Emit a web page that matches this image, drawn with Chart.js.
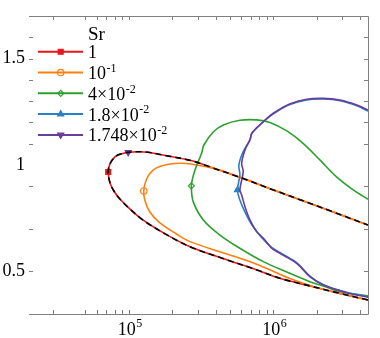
<!DOCTYPE html>
<html>
<head>
<meta charset="utf-8">
<script src="https://cdn.jsdelivr.net/npm/chart.js@4/dist/chart.umd.min.js"></script>
<style>
  html, body { margin: 0; padding: 0; background: #fff; }
  canvas { display: block; }
</style>
</head>
<body>
<canvas id="c" width="380" height="338"></canvas>
<script>
// Sr = 1 (lower branch from the right, round the nose, upper branch to the right)
const sr1X = [4.52e6, 2.89e6, 1.79e6, 1.11e6, 7.71e5, 4.48e5, 2.65e5, 1.81e5, 1.25e5, 1.02e5, 8.68e4, 7.89e4, 7.41e4, 7.21e4,
              7.41e4, 8.02e4, 8.83e4, 9.91e4, 1.16e5, 1.36e5, 1.87e5, 2.69e5, 3.82e5, 5.87e5, 9.48e5, 1.53e6, 2.47e6, 4.52e6];
const sr1Y = [0.366, 0.397, 0.432, 0.468, 0.507, 0.561, 0.616, 0.674, 0.742, 0.793, 0.840, 0.878, 0.916, 0.967,
              1.005, 1.038, 1.052, 1.060, 1.062, 1.060, 1.042, 1.021, 0.986, 0.942, 0.889, 0.837, 0.785, 0.718];
// Sr = 1e-1
const sr2X = [4.52e6, 2.10e6, 1.30e6, 7.67e5, 4.48e5, 2.65e5, 2.14e5, 1.64e5, 1.40e5, 1.29e5, 1.27e5, 1.30e5, 1.36e5,
              1.48e5, 1.64e5, 1.93e5, 2.32e5, 2.69e5, 3.37e5, 4.27e5, 5.87e5, 9.48e5, 1.53e6, 2.47e6, 4.52e6];
const sr2Y = [0.366, 0.420, 0.467, 0.534, 0.588, 0.640, 0.676, 0.728, 0.779, 0.836, 0.878, 0.916, 0.948,
              0.977, 0.993, 1.005, 1.008, 1.005, 0.993, 0.977, 0.942, 0.889, 0.837, 0.785, 0.718];
// Sr = 4e-2
const sr3X = [4.52e6, 2.89e6, 2.21e6, 1.79e6, 1.30e6, 8.52e5, 5.87e5, 4.27e5, 3.28e5, 2.79e5, 2.71e5, 2.78e5, 2.92e5,
              3.19e5, 3.31e5, 3.84e5, 4.51e5, 5.87e5, 7.67e5, 9.48e5, 1.24e6, 1.60e6, 2.10e6, 2.74e6, 3.57e6, 4.52e6];
const sr3Y = [0.385, 0.406, 0.432, 0.452, 0.491, 0.546, 0.609, 0.671, 0.742, 0.828, 0.902, 0.944, 0.991,
              1.055, 1.094, 1.155, 1.188, 1.210, 1.212, 1.200, 1.160, 1.103, 1.024, 0.944, 0.883, 0.839];
// Sr = 1.8e-2
const sr4X = [4.52e6, 3.22e6, 2.22e6, 1.79e6, 1.45e6, 1.11e6, 9.74e5, 8.35e5, 7.12e5, 6.37e5, 5.87e5, 5.65e5, 5.87e5,
              5.78e5, 6.17e5, 6.89e5, 7.12e5, 8.30e5, 1.00e6, 1.30e6, 1.70e6, 2.22e6, 2.89e6, 3.78e6, 4.52e6];
const sr4Y = [0.381, 0.402, 0.438, 0.478, 0.541, 0.589, 0.613, 0.657, 0.718, 0.779, 0.836, 0.883, 0.953,
              1.000, 1.061, 1.118, 1.150, 1.196, 1.240, 1.284, 1.306, 1.310, 1.302, 1.278, 1.253];
// Sr = 1.748e-2
const sr5X = [4.52e6, 3.22e6, 2.22e6, 1.79e6, 1.45e6, 1.11e6, 9.74e5, 8.75e5, 7.67e5, 6.89e5, 6.37e5, 6.04e5, 5.87e5,
              6.19e5, 6.04e5, 6.37e5, 6.89e5, 7.12e5, 8.30e5, 1.00e6, 1.30e6, 1.70e6, 2.22e6, 2.89e6, 3.78e6, 4.52e6];
const sr5Y = [0.379, 0.400, 0.436, 0.476, 0.538, 0.585, 0.609, 0.648, 0.687, 0.742, 0.804, 0.859, 0.883,
              0.969, 1.008, 1.071, 1.118, 1.150, 1.196, 1.243, 1.287, 1.309, 1.313, 1.305, 1.282, 1.258];
const sr5MarkX = 9.91e4;
const sr5MarkY = 1.060;

// marker position (index) on each curve
const markIdx = [13, 10, 10, 11];

const srBase = ['1', '10', '4×10', '1.8×10', '1.748×10'];
const srSup = ['', '-1', '-2', '-2', '-2'];
const colors = ['#e8151b', '#ff7f0e', '#2ca02c', '#2b80c5', '#6a3d9a'];

const xTickMarks = [3e4, 5e4, 6e4, 7e4, 8e4, 9e4, 1e5, 2e5, 3e5, 4e5, 5e5, 6e5, 7e5, 8e5, 9e5, 1e6, 2e6, 3e6, 4e6];
const xTickLabels = [5, 6];   // powers of ten
const yTickMarks = [0.5, 0.7, 0.9, 1.1, 1.2, 1.3, 1.4, 1.5, 1.6];
const yTickLabels = [0.5, 1, 1.5];

const FONT = '"Liberation Serif", "Times New Roman", serif';

function pts(xs, ys) { return xs.map((x, i) => ({ x: x, y: ys[i] })); }
function mark(idx, r) { return c => (c.dataIndex === idx ? r : 0); }

const styles = [
  { pointStyle: 'rect', fill: true, r: 3.5, rot: 0 },
  { pointStyle: 'circle', fill: false, r: 3.2, rot: 0 },
  { pointStyle: 'rectRot', fill: false, r: 3, rot: 0 },
  { pointStyle: 'triangle', fill: true, r: 3.5, rot: 0 },
  { pointStyle: 'triangle', fill: true, r: 3.5, rot: 180 }
];

function curve(i, data, idx, order) {
  const s = styles[i];
  return {
    data: data,
    borderColor: colors[i],
    borderWidth: 1.6,
    tension: 0.35,
    order: order,
    pointStyle: s.pointStyle,
    pointRotation: s.rot,
    pointRadius: mark(idx, s.r),
    pointBorderWidth: 1.2,
    pointBorderColor: colors[i],
    pointBackgroundColor: s.fill ? colors[i] : 'rgba(0,0,0,0)'
  };
}

const sr5Data = pts(sr5X, sr5Y).concat([{ x: sr5MarkX, y: null }, { x: sr5MarkX, y: sr5MarkY }]);

const frame = {
  id: 'frame',
  beforeDatasetsDraw(chart) {
    const { ctx, chartArea: a, scales: { x, y } } = chart;
    ctx.save();
    ctx.strokeStyle = '#7f7f7f';
    ctx.lineWidth = 1;
    ctx.beginPath();
    ctx.moveTo(a.left, a.top + 0.5); ctx.lineTo(a.right + 0.5, a.top + 0.5);
    ctx.lineTo(a.right + 0.5, a.bottom + 0.5); ctx.lineTo(a.left, a.bottom + 0.5);
    xTickMarks.forEach(v => {
      const px = Math.round(x.getPixelForValue(v)) + 0.5;
      ctx.moveTo(px, a.bottom); ctx.lineTo(px, a.bottom - 4);
      ctx.moveTo(px, a.top); ctx.lineTo(px, a.top + 4);
    });
    yTickMarks.forEach(v => {
      const py = Math.round(y.getPixelForValue(v)) + 0.5;
      ctx.moveTo(a.left, py); ctx.lineTo(a.left + 4, py);
      ctx.moveTo(a.right, py); ctx.lineTo(a.right - 4, py);
    });
    ctx.stroke();
    ctx.restore();
  },
  afterDraw(chart) {
    const { ctx, scales: { x } } = chart;
    ctx.save();
    ctx.fillStyle = '#000';
    ctx.textBaseline = 'alphabetic';
    ctx.textAlign = 'left';
    // x labels 10^n
    xTickLabels.forEach(n => {
      const px = x.getPixelForValue(Math.pow(10, n));
      ctx.font = '18px ' + FONT;
      const w1 = ctx.measureText('10').width;
      ctx.font = '12px ' + FONT;
      const w2 = ctx.measureText(String(n)).width;
      const x0 = px - (w1 + w2) / 2 + 1;
      ctx.font = '18px ' + FONT;
      ctx.fillText('10', x0, 335);
      ctx.font = '12px ' + FONT;
      ctx.fillText(String(n), x0 + w1 + 0.5, 327);
    });
    // legend
    ctx.font = '19px ' + FONT;
    ctx.fillText('Sr', 88, 39.5);
    srBase.forEach((t, i) => {
      const cy = 51.7 + i * 20.8;
      ctx.strokeStyle = colors[i];
      ctx.lineWidth = 2;
      ctx.beginPath();
      ctx.moveTo(38, cy); ctx.lineTo(83, cy);
      ctx.stroke();
      const s = styles[i];
      ctx.fillStyle = s.fill ? colors[i] : 'rgba(0,0,0,0)';
      ctx.lineWidth = 1.2;
      Chart.helpers.drawPoint(ctx, { pointStyle: s.pointStyle, radius: s.r, rotation: s.rot, borderWidth: 1.2 }, 60.7, cy);
      ctx.fillStyle = '#000';
      ctx.font = '18px ' + FONT;
      ctx.fillText(t, 88, cy + 6.5);
      if (srSup[i]) {
        const w = ctx.measureText(t).width;
        ctx.font = '12px ' + FONT;
        ctx.fillText(srSup[i], 88 + w + 0.5, cy - 0.8);
      }
    });
    ctx.restore();
  }
};

new Chart(document.getElementById('c'), {
  type: 'line',
  data: {
    datasets: [
      curve(0, pts(sr1X, sr1Y), markIdx[0], 5),
      curve(1, pts(sr2X, sr2Y), markIdx[1], 4),
      curve(2, pts(sr3X, sr3Y), markIdx[2], 3),
      curve(3, pts(sr4X, sr4Y), markIdx[3], 2),
      curve(4, sr5Data, sr5X.length + 1, 1),
      {
        data: pts(sr1X, sr1Y),
        borderColor: '#000',
        borderWidth: 1.6,
        borderDash: [6, 4],
        tension: 0.35,
        pointRadius: 0,
        order: 0
      }
    ]
  },
  options: {
    responsive: false,
    animation: false,
    events: [],
    layout: { padding: { left: 0, right: 12, top: 16, bottom: 0 } },
    plugins: { legend: { display: false }, tooltip: { enabled: false } },
    scales: {
      x: {
        type: 'logarithmic',
        min: 2.04e4,
        max: 4.52e6,
        grid: { display: false },
        border: { display: false },
        ticks: { display: false },
        afterFit: s => { s.height = 24; }
      },
      y: {
        type: 'linear',
        min: 0.3,
        max: 1.7,
        grid: { display: false, drawTicks: false },
        border: { display: false },
        afterBuildTicks: s => { s.ticks = yTickLabels.map(v => ({ value: v })); },
        ticks: {
          padding: 4,
          color: '#000',
          font: { family: FONT, size: 18 },
          callback: v => String(v)
        },
        afterFit: s => { s.width = 29; }
      }
    }
  },
  plugins: [frame]
});
</script>
</body>
</html>
